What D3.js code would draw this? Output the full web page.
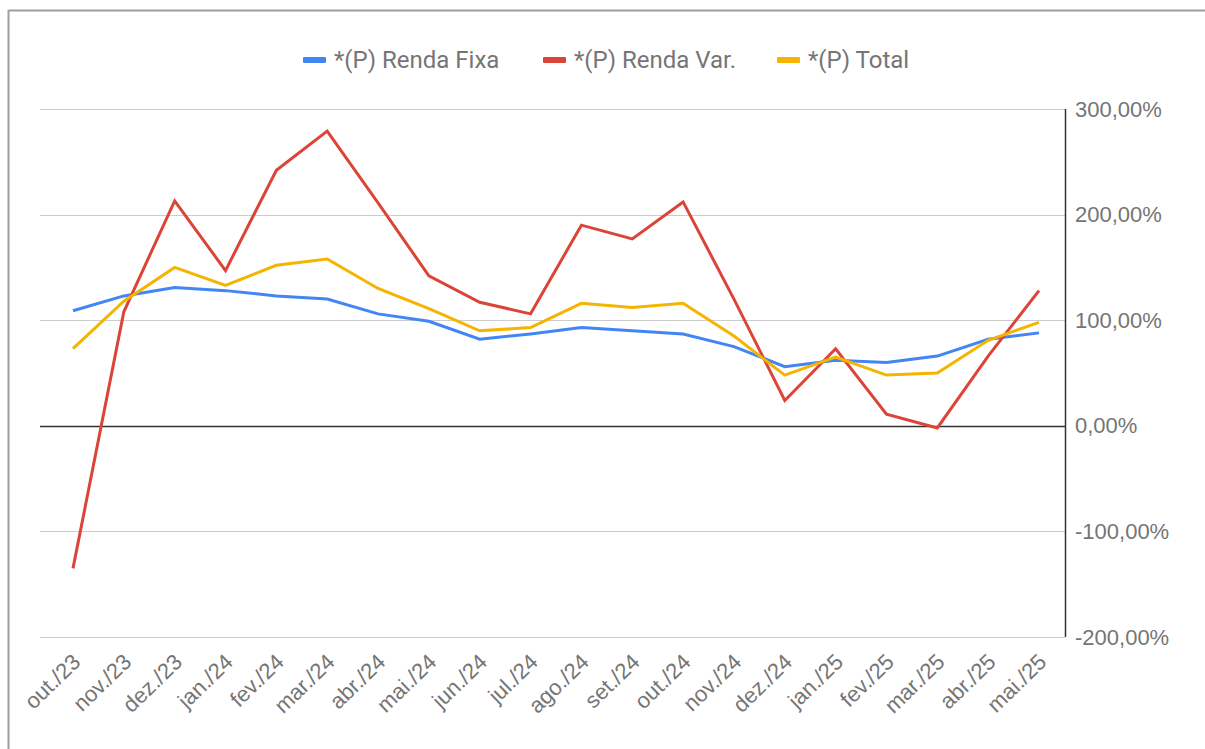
<!DOCTYPE html>
<html lang="pt-BR">
<head>
    <meta charset="UTF-8">
    <title>Renda Fixa x Renda Variável</title>
    <script src="https://d3js.org/d3.v7.min.js"></script>
    <style>
        body { margin: 0; background: #fff; font-family: Roboto, "Noto Sans", sans-serif; }
        .grid line { stroke: #cccccc; stroke-width: 1; }
        .axis text { fill: #757575; font-size: 22px; }
        .legend text { fill: #757575; font-size: 24px; }
    </style>
</head>
<body>
<div id="chart"></div>
<script>
    // categories (months)
    const months = ["out./23", "nov./23", "dez./23", "jan./24", "fev./24", "mar./24", "abr./24",
        "mai./24", "jun./24", "jul./24", "ago./24", "set./24", "out./24", "nov./24", "dez./24",
        "jan./25", "fev./25", "mar./25", "abr./25", "mai./25"];

    // series values (%)
    const rendaFixa = [109, 123, 131, 128, 123, 120, 106, 99, 82, 87, 93, 90, 87, 75, 56, 62, 60, 66, 82, 88];
    const rendaVar = [-135, 108, 213, 147, 242, 279, 211, 142, 117, 106, 190, 177, 212, 120, 24, 73, 11, -2, 66, 128];
    const total = [73, 118, 150, 133, 152, 158, 130, 111, 90, 93, 116, 112, 116, 85, 48, 65, 48, 50, 81, 98];

    const seriesNames = ["*(P) Renda Fixa", "*(P) Renda Var.", "*(P) Total"];
    const seriesColors = ["#4285f4", "#db4437", "#f4b400"];

    // y ticks
    const yTicks = [-200, -100, 0, 100, 200, 300];

    const W = 1205, H = 749;
    const svg = d3.select("#chart").append("svg")
        .attr("width", W).attr("height", H);

    // frame (top and left edge only, as in the screenshot)
    svg.append("line").attr("x1", 8.5).attr("x2", W).attr("y1", 10.5).attr("y2", 10.5)
        .attr("stroke", "#9e9e9e").attr("stroke-width", 2);
    svg.append("line").attr("x1", 8.5).attr("x2", 8.5).attr("y1", 10).attr("y2", H)
        .attr("stroke", "#9e9e9e").attr("stroke-width", 2);

    const plotLeft = 40, plotRight = 1065, plotTop = 109, plotBottom = 637;

    const x = d3.scalePoint().domain(months).range([73, 1039]);
    const y = d3.scaleLinear().domain([-200, 300]).range([plotBottom, plotTop]);

    // gridlines
    svg.append("g").attr("class", "grid")
        .selectAll("line").data(yTicks.filter(d => d !== 0)).enter()
        .append("line")
        .attr("x1", plotLeft).attr("x2", plotRight)
        .attr("y1", d => Math.round(y(d)) + 0.5).attr("y2", d => Math.round(y(d)) + 0.5);

    // zero baseline
    svg.append("line")
        .attr("x1", plotLeft).attr("x2", plotRight)
        .attr("y1", Math.round(y(0)) + 0.5).attr("y2", Math.round(y(0)) + 0.5)
        .attr("stroke", "#333").attr("stroke-width", 1.5);

    // right axis line
    svg.append("line")
        .attr("x1", plotRight + 0.5).attr("x2", plotRight + 0.5)
        .attr("y1", plotTop).attr("y2", plotBottom)
        .attr("stroke", "#333").attr("stroke-width", 1.5);

    // right axis labels
    const fmt = v => v.toFixed(2).replace(".", ",") + "%";
    const yAxis = svg.append("g").attr("class", "axis")
        .attr("transform", `translate(${plotRight},0)`)
        .call(d3.axisRight(y).tickValues(yTicks).tickSize(0).tickPadding(10).tickFormat(fmt));
    yAxis.select(".domain").remove();

    // x labels
    const xAxis = svg.append("g").attr("class", "axis")
        .attr("transform", `translate(0,${plotBottom})`)
        .call(d3.axisBottom(x).tickSize(0).tickPadding(0));
    xAxis.select(".domain").remove();
    xAxis.selectAll("text")
        .attr("text-anchor", "end")
        .attr("dy", "0.35em")
        .attr("y", 0)
        .attr("transform", "translate(3,21) rotate(-44)");

    // lines
    const line = d3.line().x((d, i) => x(months[i])).y(d => y(d));
    [rendaFixa, rendaVar, total].forEach((s, k) => {
        svg.append("path").datum(s)
            .attr("fill", "none")
            .attr("stroke", seriesColors[k])
            .attr("stroke-width", 3)
            .attr("stroke-linejoin", "miter")
            .attr("d", line);
    });

    // legend
    const legendX = [303, 543, 777];
    const legend = svg.append("g").attr("class", "legend");
    seriesNames.forEach((name, k) => {
        legend.append("rect")
            .attr("x", legendX[k]).attr("y", 57)
            .attr("width", 23).attr("height", 6)
            .attr("rx", 1)
            .attr("fill", seriesColors[k]);
        legend.append("text")
            .attr("x", legendX[k] + 31).attr("y", 60)
            .attr("dy", "0.35em")
            .text(name);
    });
</script>
</body>
</html>
